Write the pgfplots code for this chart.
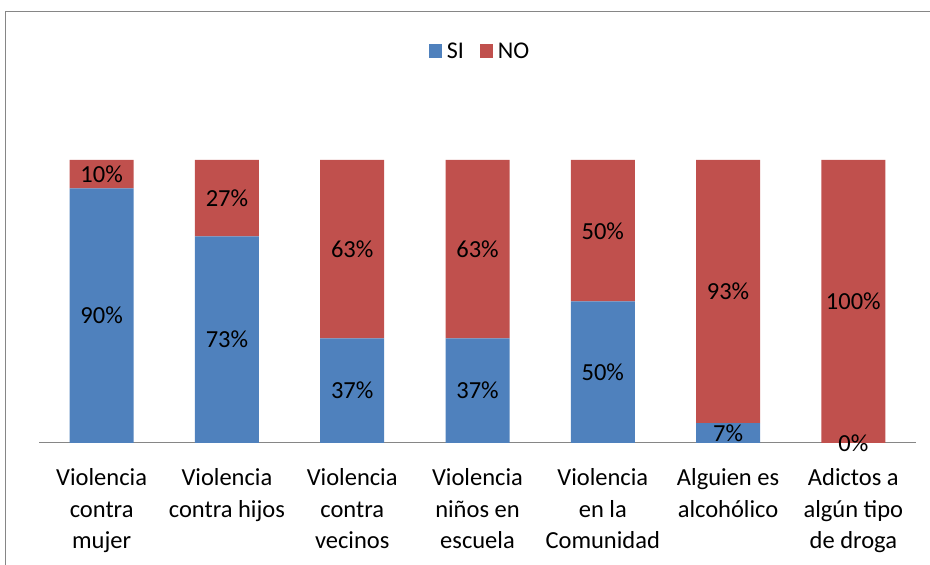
\documentclass[border=0pt]{standalone}
\usepackage{pgfplots}
\pgfplotsset{compat=1.18}
\usepackage{fontspec}
\setmainfont{Carlito}
\definecolor{siblue}{HTML}{4F81BD}
\definecolor{nored}{HTML}{C0504D}
\definecolor{framegray}{HTML}{868686}
\begin{document}
\begin{tikzpicture}
\useasboundingbox (0,0) rectangle (930pt,565pt);
\draw[framegray, line width=1pt] (5pt,-2pt) -- (5pt,553pt) -- (935pt,553pt);
\begin{axis}[
  at={(39pt,122pt)}, anchor=south west,
  scale only axis, width=877pt, height=283pt,
  xmin=-0.5, xmax=6.5, ymin=0, ymax=100,
  ybar stacked, bar width=64pt,
  axis y line=none,
  axis x line=bottom,
  x axis line style={framegray, line width=1pt, -},
  xtick={0,1,2,3,4,5,6},
  major tick length=0pt,
  /pgf/number format/assume math mode=true,
  xticklabels={{Violencia\\contra\\mujer},{Violencia\\contra hijos},{Violencia\\contra\\vecinos},{Violencia\\niños en\\escuela},{Violencia\\en la\\Comunidad},{Alguien es\\alcohólico},{Adictos a\\algún tipo\\de droga}},
  xticklabel style={align=center, font=\fontsize{24.5}{31.5}\selectfont, anchor=north, inner sep=0pt, yshift=-25.5pt},
  nodes near coords={\pgfmathprintnumber{\pgfplotspointmeta}\%},
  every node near coord/.append style={font=\fontsize{24.5}{29}\selectfont, anchor=center, text=black},
  legend style={at={(0.503,1.385)}, anchor=center, draw=none, fill=none, legend columns=2, font=\fontsize{24}{28}\selectfont,
    /tikz/every odd column/.append style={column sep=3pt},
    /tikz/every even column/.append style={column sep=14pt}},
]
\addplot[fill=siblue, draw=none, legend image code/.code={\fill[siblue] (0pt,-7pt) rectangle (13pt,7pt);}] coordinates {(0,90) (1,73) (2,37) (3,37) (4,50) (5,7) (6,0)};
\addlegendentry{SI}
\addplot[fill=nored, draw=none, legend image code/.code={\fill[nored] (0pt,-7pt) rectangle (13pt,7pt);}] coordinates {(0,10) (1,27) (2,63) (3,63) (4,50) (5,93) (6,100)};
\addlegendentry{NO}
\end{axis}
\begin{axis}[
  at={(39pt,122pt)}, anchor=south west,
  scale only axis, width=877pt, height=283pt,
  xmin=-0.5, xmax=6.5, ymin=0, ymax=100,
  hide axis, clip=false,
  ybar, bar width=64pt, bar shift=0pt,
  /pgf/number format/assume math mode=true,
  nodes near coords={\pgfmathprintnumber{\pgfplotspointmeta}\%},
  every node near coord/.append style={font=\fontsize{24.5}{29}\selectfont, anchor=center, text=black},
]
\addplot[draw=none, fill=none] coordinates {(6,0)};
\end{axis}
\end{tikzpicture}
\end{document}
